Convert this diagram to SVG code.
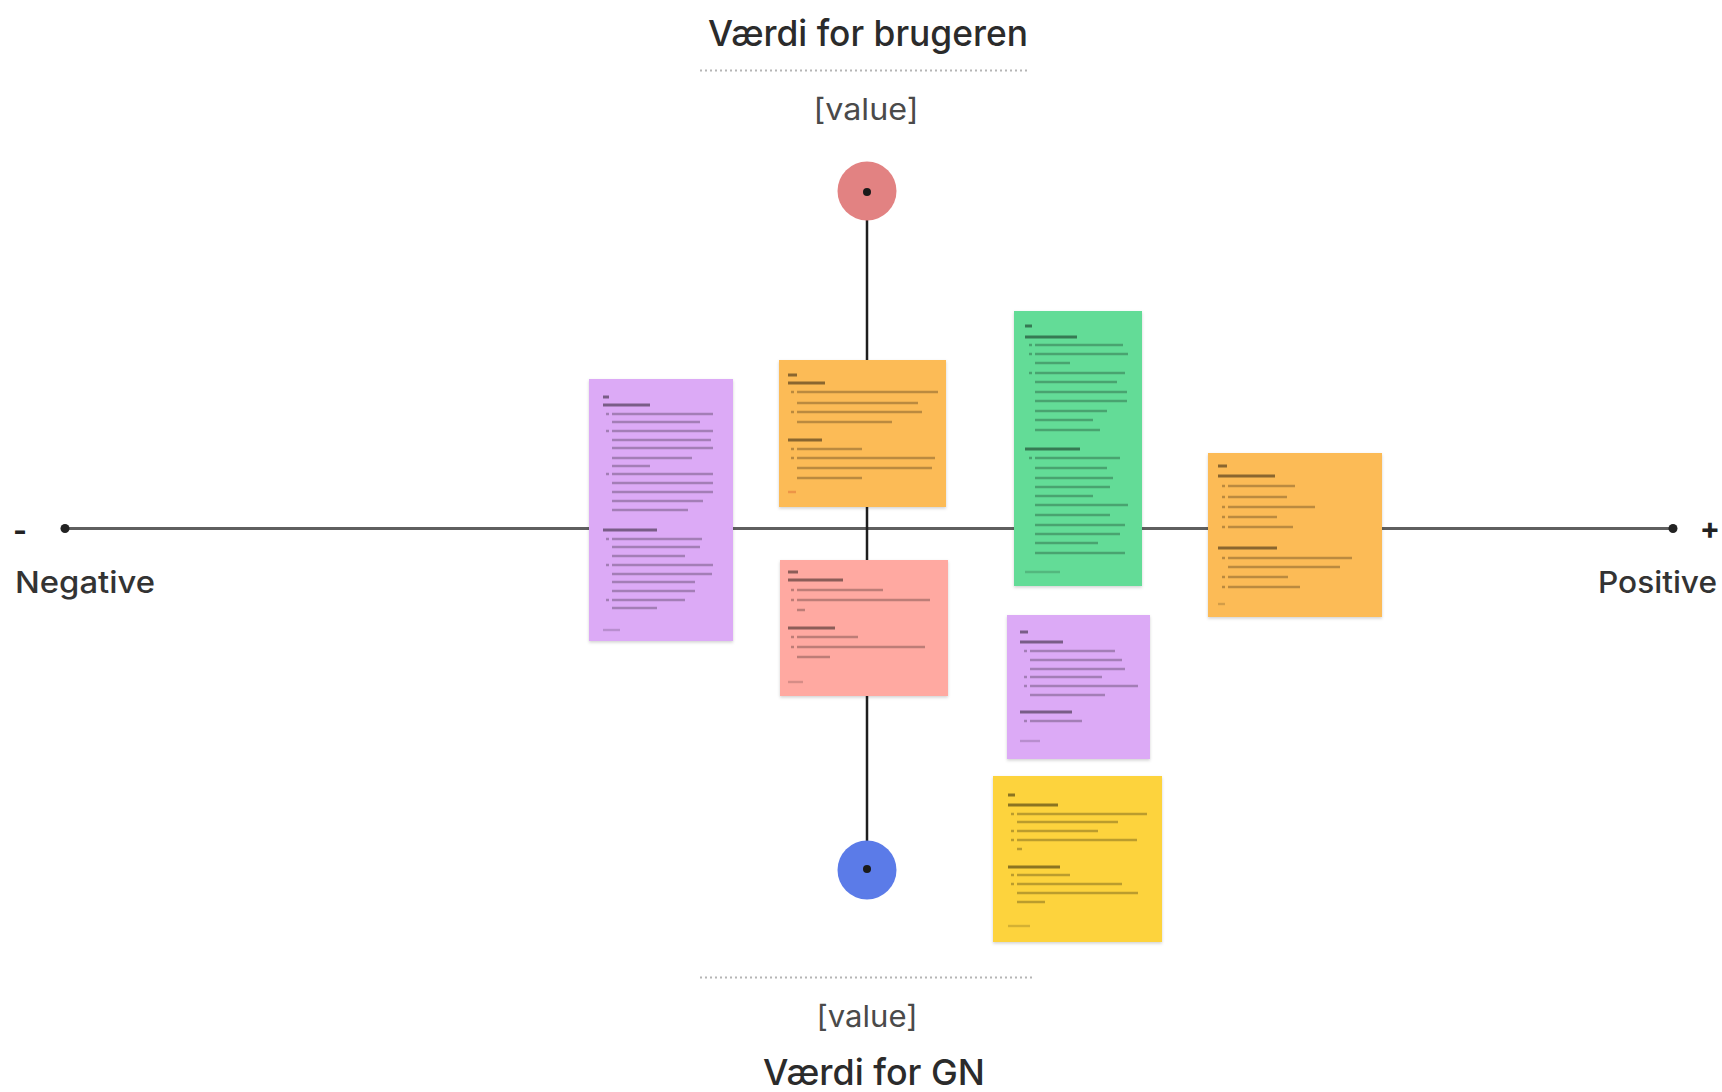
<svg xmlns="http://www.w3.org/2000/svg" width="1722" height="1092" viewBox="0 0 1722 1092">
  <defs>
    <filter id="noteShadow" x="-10%" y="-10%" width="120%" height="120%">
      <feDropShadow dx="0" dy="1.5" stdDeviation="1.5" flood-color="#000" flood-opacity="0.18"/>
    </filter>
  </defs>
  <style>
    .title { font-family: Inter, "Liberation Sans", sans-serif; font-size: 36px; font-weight: 500; fill: #2b2b2b; }
    .value { font-family: Inter, "Liberation Sans", sans-serif; font-size: 30px; fill: #4a4a4a; }
    .end { font-family: Inter, "Liberation Sans", sans-serif; font-size: 30px; font-weight: 500; fill: #333; }
    .sign { font-family: Inter, "Liberation Sans", sans-serif; font-size: 30px; font-weight: 700; fill: #222; }
    .dotted { stroke: #b5b5b5; stroke-width: 2; stroke-dasharray: 2 3; fill: none; }
    .note { filter: url(#noteShadow); }
    .body { stroke: #000; stroke-opacity: 0.26; stroke-width: 2.6; fill: none; }
    .head { stroke: #000; stroke-opacity: 0.45; stroke-width: 3; fill: none; }
    .foot { stroke: #000; stroke-opacity: 0.16; stroke-width: 2.4; fill: none; }
  </style>

  <rect width="1722" height="1092" fill="#ffffff"/>

  <!-- axes -->
  <g id="connectors">
    <line x1="65" y1="528.5" x2="1673" y2="528.5" stroke="#5f5f5f" stroke-width="3"/>
    <circle cx="65" cy="528.5" r="4.5" fill="#222"/>
    <circle cx="1673" cy="528.5" r="4.5" fill="#222"/>
    <line x1="867" y1="192" x2="867" y2="869" stroke="#1e1e1e" stroke-width="2.5"/>
  </g>

  <!-- vertical axis labels -->
  <g id="top-label">
    <text class="title" x="868" y="46" text-anchor="middle" textLength="320" lengthAdjust="spacingAndGlyphs">Værdi for brugeren</text>
    <line class="dotted" x1="700" y1="70.5" x2="1028" y2="70.5"/>
    <text class="value" x="866" y="120" text-anchor="middle" textLength="105" lengthAdjust="spacingAndGlyphs">[value]</text>
  </g>
  <g id="bottom-label">
    <line class="dotted" x1="700" y1="977.5" x2="1032" y2="977.5"/>
    <text class="value" x="867" y="1027" text-anchor="middle" textLength="101" lengthAdjust="spacingAndGlyphs">[value]</text>
    <text class="title" x="874" y="1085" text-anchor="middle" textLength="222" lengthAdjust="spacingAndGlyphs">Værdi for GN</text>
  </g>

  <!-- poles -->
  <g id="pole-top">
    <circle cx="867" cy="191" r="29.5" fill="#e28282"/>
    <circle cx="867" cy="192" r="4" fill="#1a1a1a"/>
  </g>
  <g id="pole-bottom">
    <circle cx="867" cy="870" r="29.5" fill="#5b7be8"/>
    <circle cx="867" cy="869" r="4" fill="#1a1a1a"/>
  </g>

  <!-- horizontal axis labels -->
  <g id="negative-end">
    <text class="sign" x="20" y="541" text-anchor="middle">-</text>
    <text class="end" x="15" y="593" textLength="140" lengthAdjust="spacingAndGlyphs">Negative</text>
  </g>
  <g id="positive-end">
    <text class="sign" x="1710" y="539" text-anchor="middle">+</text>
    <text class="end" x="1598" y="593" textLength="119" lengthAdjust="spacingAndGlyphs">Positive</text>
  </g>

  <!-- sticky notes -->
  <g id="note-purple-left">
    <rect class="note" x="589" y="379" width="144" height="262" fill="#dcaaf6"/>
    <path class="head" d="M603 397H609M603 405H650M603 530H657"/>
    <path class="body" d="M606 414h3M606 431h3M606 474h3M606 539h3M606 565h3M606 600h3
      M612 414H713M612 422H700M612 431H713M612 440H711M612 448H713M612 458H692M612 466H650
      M612 474H713M612 483H713M612 492H713M612 501H703M612 510H688
      M612 539H702M612 547H700M612 556H685M612 565H713M612 574H712M612 582H695M612 591H695
      M612 600H685M612 608H657"/>
    <path class="foot" d="M603 630H620"/>
  </g>

  <g id="note-orange-top">
    <rect class="note" x="779" y="360" width="167" height="147" fill="#fcbb57"/>
    <path class="head" d="M788 375H797M788 383H825M788 440H822"/>
    <path class="body" d="M791 392h3M791 412h3M791 449h3M791 458h3
      M797 392H938M797 403H918M797 412H922M797 422H892
      M797 449H862M797 458H935M797 468H932M797 478H862"/>
    <path class="foot" d="M788 492H796" style="stroke:#d0502a;stroke-opacity:.35"/>
  </g>

  <g id="note-pink">
    <rect class="note" x="780" y="560" width="168" height="136" fill="#ffa9a1"/>
    <path class="head" d="M788 572H798M788 580H843M788 628H835"/>
    <path class="body" d="M791 590h3M791 600h3M791 637h3M791 647h3
      M797 590H883M797 600H930M797 610H805
      M797 637H858M797 647H925M797 657H830"/>
    <path class="foot" d="M788 682H803"/>
  </g>

  <g id="note-green">
    <rect class="note" x="1014" y="311" width="128" height="275" fill="#64dc97"/>
    <path class="head" d="M1025 326H1032M1025 337H1077M1025 449H1080"/>
    <path class="body" d="M1029 345h3M1029 354h3M1029 373h3M1029 458h3
      M1035 345H1123M1035 354H1128M1035 363H1070M1035 373H1125M1035 382H1117M1035 392H1127
      M1035 401H1127M1035 411H1107M1035 420H1093M1035 430H1100
      M1035 458H1120M1035 468H1107M1035 478H1113M1035 487H1110M1035 496H1093M1035 505H1128
      M1035 515H1110M1035 525H1125M1035 534H1120M1035 543H1098M1035 553H1125"/>
    <path class="foot" d="M1025 572H1060"/>
  </g>

  <g id="note-orange-right">
    <rect class="note" x="1208" y="453" width="174" height="164" fill="#fcbb57"/>
    <path class="head" d="M1218 466H1227M1218 476H1275M1218 548H1277"/>
    <path class="body" d="M1222 486h3M1222 497h3M1222 507h3M1222 517h3M1222 527h3M1222 558h3M1222 577h3M1222 587h3
      M1228 486H1295M1228 497H1287M1228 507H1315M1228 517H1277M1228 527H1293
      M1228 558H1352M1228 567H1340M1228 577H1288M1228 587H1300"/>
    <path class="foot" d="M1218 604H1225"/>
  </g>

  <g id="note-purple-lower">
    <rect class="note" x="1007" y="615" width="143" height="144" fill="#dcaaf6"/>
    <path class="head" d="M1020 632H1028M1020 642H1063M1020 712H1072"/>
    <path class="body" d="M1024 651h3M1024 677h3M1024 686h3M1024 721h3
      M1030 651H1115M1030 660H1122M1030 669H1125M1030 677H1102M1030 686H1138M1030 695H1105
      M1030 721H1082"/>
    <path class="foot" d="M1020 741H1040"/>
  </g>

  <g id="note-yellow">
    <rect class="note" x="993" y="776" width="169" height="166" fill="#fdd33e"/>
    <path class="head" d="M1008 795H1015M1008 805H1058M1008 867H1060"/>
    <path class="body" d="M1011 814h3M1011 831h3M1011 840h3M1011 875h3M1011 884h3
      M1017 814H1147M1017 822H1118M1017 831H1098M1017 840H1137M1017 849H1022
      M1017 875H1070M1017 884H1122M1017 893H1138M1017 902H1045"/>
    <path class="foot" d="M1008 926H1030"/>
  </g>
</svg>
